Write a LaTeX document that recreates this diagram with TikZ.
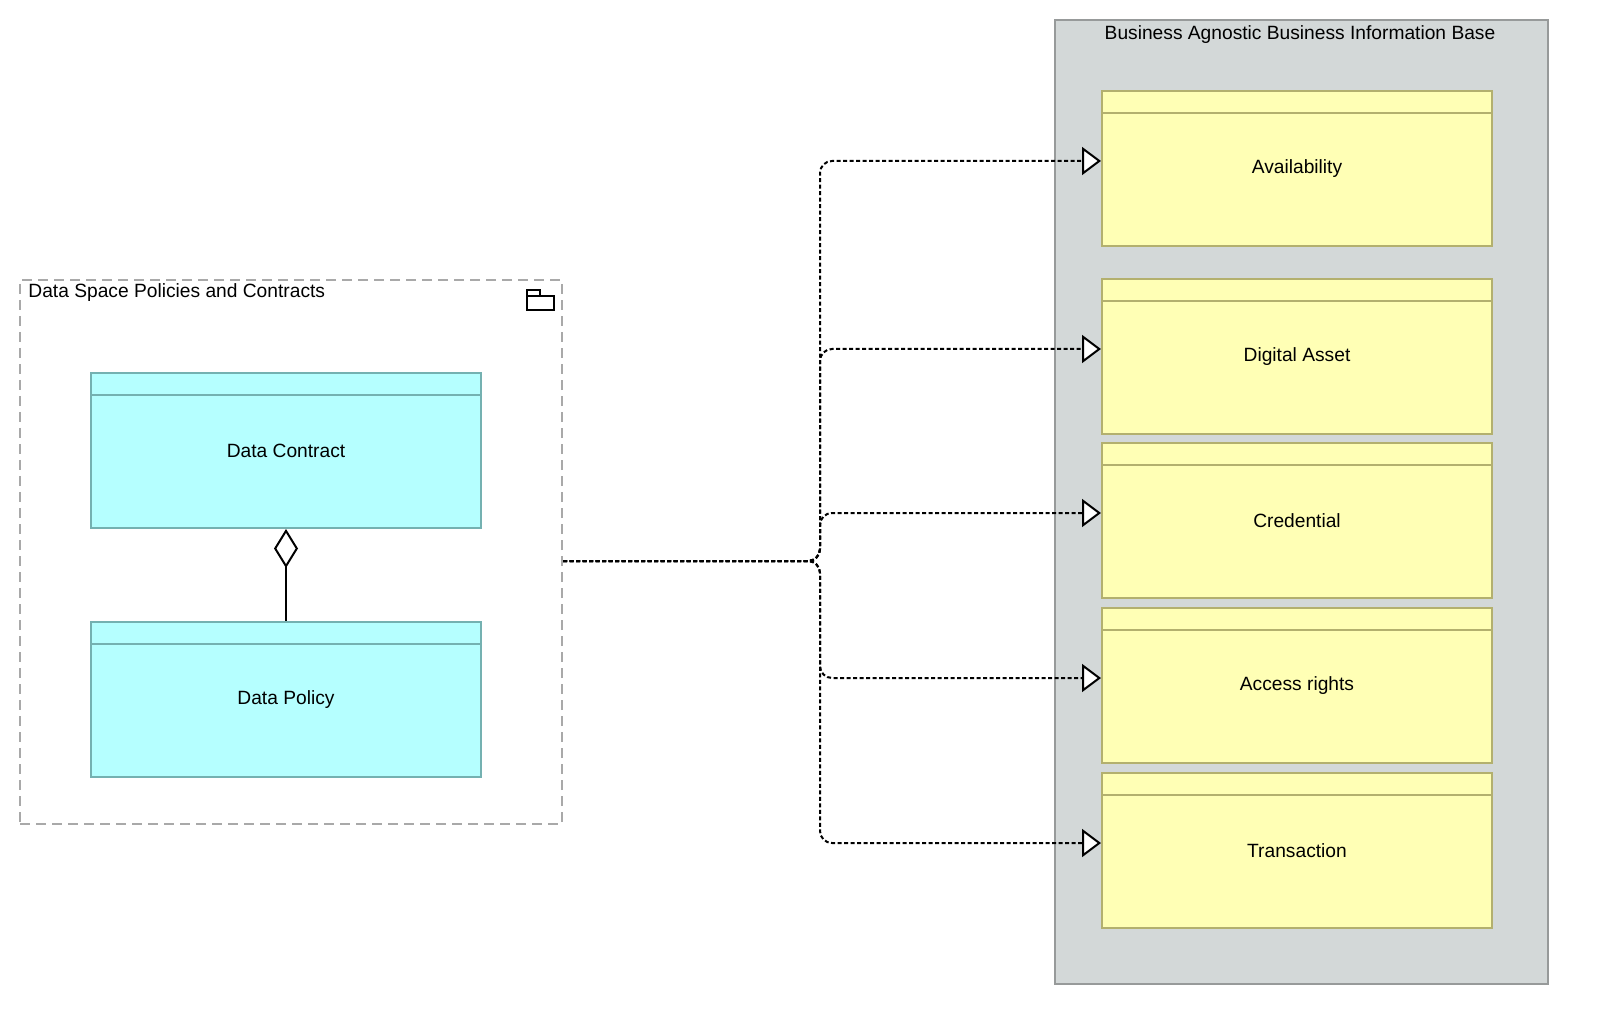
\documentclass[tikz,border=0pt]{standalone}
\usepackage{fontspec}
\setmainfont{Liberation Sans}
\usepackage{tikz}
\usetikzlibrary{positioning, arrows.meta, calc}
\definecolor{bibfill}{HTML}{D3D8D8}
\definecolor{bibline}{HTML}{979A9A}
\definecolor{yelfill}{HTML}{FFFFB5}
\definecolor{yelline}{HTML}{B3B06E}
\definecolor{cyanfill}{HTML}{B5FFFF}
\definecolor{cyanline}{HTML}{74B1B1}
\definecolor{groupline}{HTML}{A9A9A9}
\tikzset{every node/.style={font=\fontsize{9.6}{11.5}\selectfont}}

\begin{document}
\begin{tikzpicture}[
            x=0.5pt, y=-0.5pt,
            container/.style={
                draw=bibline, fill=bibfill, line width=1pt,
                minimum width=246.5pt, minimum height=482pt, inner sep=0pt,
            },
            grouping/.style={
                draw=groupline, line width=1pt, dash pattern=on 5pt off 3pt,
                minimum width=271pt, minimum height=272pt, inner sep=0pt,
            },
            bizobj/.style={
                draw=yelline, fill=yelfill, line width=1pt,
                minimum width=195pt, minimum height=77.5pt, inner sep=0pt,
            },
            dataobj/.style={
                bizobj, draw=cyanline, fill=cyanfill,
            },
            realize/.style={
                draw, line width=1pt, dash pattern=on 2pt off 1.25pt,
                rounded corners=6pt,
                -{Triangle[fill=white, length=9.5pt, width=14pt]},
            },
            agg/.style={
                draw, line width=1pt,
                {Diamond[fill=white, length=19.5pt, width=12pt]}-,
            }]
        \useasboundingbox (0,0) rectangle (1600,1026);
        % information base
        \node[container] (bib) at (1301.5,502) {};
        \node (bibtitle) at (1300,35) {Business Agnostic Business Information Base};
        % policies and contracts group
        \node[grouping] (dsp) at (291,552) {};
        \node[anchor=west, inner sep=0pt] (dsptitle) at (28,293) {Data Space Policies and Contracts};
        \draw[line width=1pt] (527,296) rectangle (554,310);
        \draw[line width=1pt] (527,296) -- (527,290) -- (540,290) -- (540,296);
        \coordinate (src) at ($(dsp.east)+(0,9)$);
        \coordinate (bend) at (820,561);
        % realizations
        \node[bizobj] (avail) at (1297,168.5) {};
        \node[bizobj] (asset) at (1297,356.5) {};
        \node[bizobj] (cred) at (1297,520.5) {};
        \node[bizobj] (rights) at (1297,685.5) {};
        \node[bizobj] (trans) at (1297,850.5) {};
        \foreach \n in {avail, asset, cred, rights, trans}
            \draw[realize] (src) -- (bend) |- ($(\n.west)+(0,-7.5)$);
        \foreach \n/\t in {avail/Availability, asset/Digital Asset, cred/Credential,
                           rights/Access rights, trans/Transaction} {
            \draw[yelline, line width=1pt] ($(\n.north west)+(0,23)$) -- ($(\n.north east)+(0,23)$);
            \node at (\n) {\t};
        }
        % data objects
        \node[dataobj] (contract) at (286,450.5) {Data Contract};
        \node[dataobj] (policy) at (286,699.5) {Data Policy};
        \foreach \n in {contract, policy}
            \draw[cyanline, line width=1pt] ($(\n.north west)+(0,23)$) -- ($(\n.north east)+(0,23)$);
        \draw[agg] (contract) -- (policy);
        \end{tikzpicture}
\end{document}
